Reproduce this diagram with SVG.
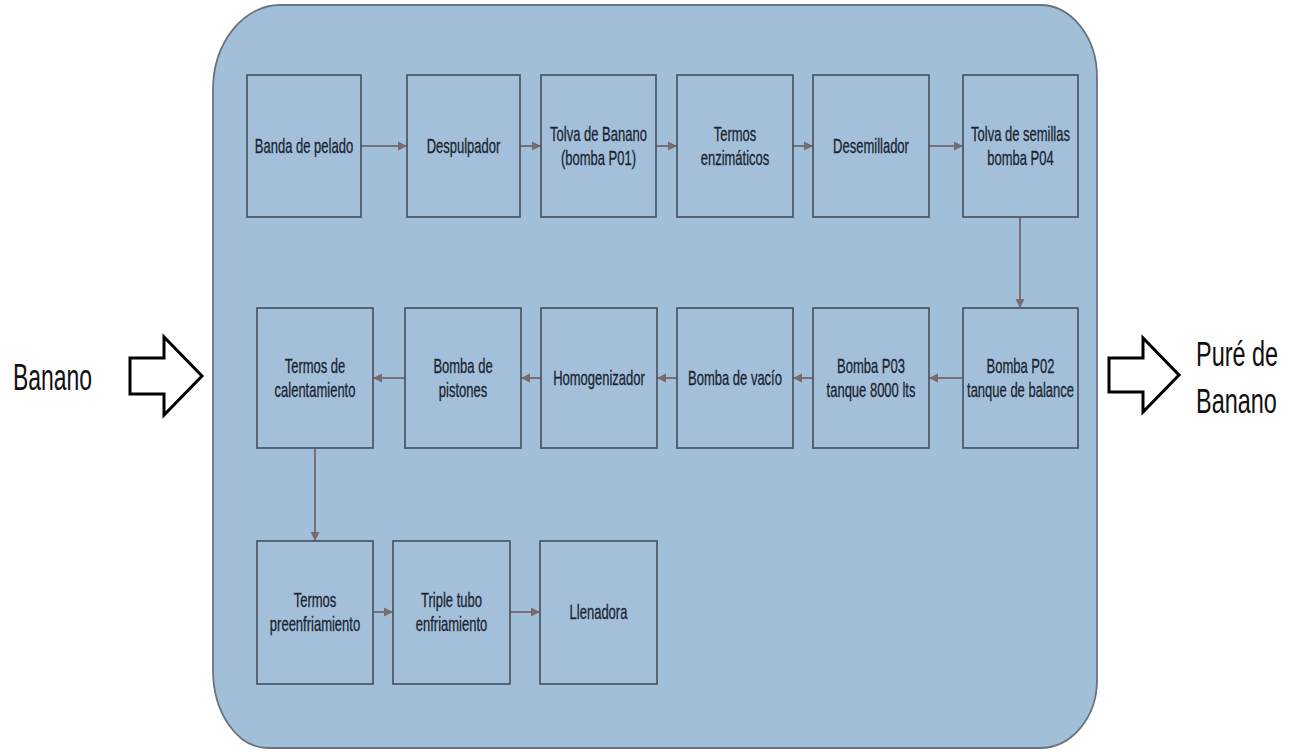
<svg xmlns="http://www.w3.org/2000/svg" width="1291" height="752" viewBox="0 0 1291 752">
  <defs>
    <marker id="arrow" markerUnits="userSpaceOnUse" markerWidth="10" markerHeight="10" refX="9" refY="5" orient="auto">
      <path d="M0,0.5 L9,5 L0,9.5 Z" fill="#776b6b"/>
    </marker>
    <style>
      .node rect { fill: #a3bfda; stroke: #4e5a68; stroke-width: 1.8; }
      .node text { font-family: "Liberation Sans", Arial, sans-serif; font-size: 20px; fill: #1a2430; stroke: #1a2430; stroke-width: 0.3; text-anchor: middle; }
      .conn { stroke: #76707a; stroke-width: 2; fill: none; marker-end: url(#arrow); }
      .io text { font-family: "Liberation Sans", Arial, sans-serif; fill: #111; text-anchor: start; }
      .fat { fill: #fff; stroke: #000; stroke-width: 3; stroke-linejoin: miter; }
    </style>
  </defs>

  <rect width="1291" height="752" fill="#ffffff"/>

  <!-- process container -->
  <path id="container" d="M 280 5 H 1040 A 57 72 0 0 1 1097 77 V 680 A 57 68 0 0 1 1040 748 H 268 A 55 78 0 0 1 213 670 V 90 A 67 85 0 0 1 280 5 Z" fill="#a2bfda" stroke="#6a737d" stroke-width="1.8"/>

  <!-- input / output -->
  <g id="input" class="io">
    <text transform="translate(13,390) scale(0.62,1)" font-size="37">Banano</text>
    <path class="fat" d="M 130 358 H 164 V 337 L 202 376 L 164 415 V 394 H 130 Z"/>
  </g>
  <g id="output" class="io">
    <path class="fat" d="M 1109 358 H 1143 V 338 L 1179 375 L 1143 412 V 392 H 1109 Z"/>
    <text transform="translate(1196,366) scale(0.67,1)" font-size="35">Puré de</text>
    <text transform="translate(1196,413) scale(0.67,1)" font-size="35">Banano</text>
  </g>

  <!-- connectors -->
  <g id="connectors">
    <line class="conn" x1="361" y1="146" x2="407" y2="146"/>
    <line class="conn" x1="520" y1="146" x2="541" y2="146"/>
    <line class="conn" x1="656" y1="146" x2="677" y2="146"/>
    <line class="conn" x1="793" y1="146" x2="813" y2="146"/>
    <line class="conn" x1="929" y1="146" x2="963" y2="146"/>
    <line class="conn" x1="1020" y1="217" x2="1020" y2="308"/>
    <line class="conn" x1="963" y1="378" x2="929" y2="378"/>
    <line class="conn" x1="813" y1="378" x2="793" y2="378"/>
    <line class="conn" x1="677" y1="378" x2="657" y2="378"/>
    <line class="conn" x1="541" y1="378" x2="521" y2="378"/>
    <line class="conn" x1="405" y1="378" x2="373" y2="378"/>
    <line class="conn" x1="315" y1="448" x2="315" y2="541"/>
    <line class="conn" x1="373" y1="612" x2="393" y2="612"/>
    <line class="conn" x1="510" y1="612" x2="540" y2="612"/>
  </g>

  <!-- row 1 -->
  <g id="banda-pelado" class="node">
    <rect x="247" y="75" width="114" height="142"/>
    <text transform="translate(304,153) scale(0.65,1)">Banda de pelado</text>
  </g>
  <g id="despulpador" class="node">
    <rect x="407" y="75" width="113" height="142"/>
    <text transform="translate(463.5,153) scale(0.65,1)">Despulpador</text>
  </g>
  <g id="tolva-banano" class="node">
    <rect x="541" y="75" width="115" height="142"/>
    <text transform="translate(598.5,141) scale(0.65,1)">Tolva de Banano</text>
    <text transform="translate(598.5,165) scale(0.65,1)">(bomba P01)</text>
  </g>
  <g id="termos-enzimaticos" class="node">
    <rect x="677" y="75" width="116" height="142"/>
    <text transform="translate(735,141) scale(0.65,1)">Termos</text>
    <text transform="translate(735,165) scale(0.65,1)">enzimáticos</text>
  </g>
  <g id="desemillador" class="node">
    <rect x="813" y="75" width="116" height="142"/>
    <text transform="translate(871,153) scale(0.65,1)">Desemillador</text>
  </g>
  <g id="tolva-semillas" class="node">
    <rect x="963" y="75" width="115" height="142"/>
    <text transform="translate(1020.5,141) scale(0.65,1)">Tolva de semillas</text>
    <text transform="translate(1020.5,165) scale(0.65,1)">bomba P04</text>
  </g>

  <!-- row 2 -->
  <g id="bomba-p02" class="node">
    <rect x="963" y="308" width="115" height="140"/>
    <text transform="translate(1020.5,373) scale(0.65,1)">Bomba P02</text>
    <text transform="translate(1020.5,397) scale(0.65,1)">tanque de balance</text>
  </g>
  <g id="bomba-p03" class="node">
    <rect x="813" y="308" width="116" height="140"/>
    <text transform="translate(871,373) scale(0.65,1)">Bomba P03</text>
    <text transform="translate(871,397) scale(0.65,1)">tanque 8000 lts</text>
  </g>
  <g id="bomba-vacio" class="node">
    <rect x="677" y="308" width="116" height="140"/>
    <text transform="translate(735,385) scale(0.65,1)">Bomba de vacío</text>
  </g>
  <g id="homogenizador" class="node">
    <rect x="541" y="308" width="116" height="140"/>
    <text transform="translate(599,385) scale(0.65,1)">Homogenizador</text>
  </g>
  <g id="bomba-pistones" class="node">
    <rect x="405" y="308" width="116" height="140"/>
    <text transform="translate(463,373) scale(0.65,1)">Bomba de</text>
    <text transform="translate(463,397) scale(0.65,1)">pistones</text>
  </g>
  <g id="termos-calentamiento" class="node">
    <rect x="257" y="308" width="116" height="140"/>
    <text transform="translate(315,373) scale(0.65,1)">Termos de</text>
    <text transform="translate(315,397) scale(0.65,1)">calentamiento</text>
  </g>

  <!-- row 3 -->
  <g id="termos-preenfriamiento" class="node">
    <rect x="257" y="541" width="116" height="143"/>
    <text transform="translate(315,607) scale(0.65,1)">Termos</text>
    <text transform="translate(315,631) scale(0.65,1)">preenfriamiento</text>
  </g>
  <g id="triple-tubo" class="node">
    <rect x="393" y="541" width="117" height="143"/>
    <text transform="translate(451.5,607) scale(0.65,1)">Triple tubo</text>
    <text transform="translate(451.5,631) scale(0.65,1)">enfriamiento</text>
  </g>
  <g id="llenadora" class="node">
    <rect x="540" y="541" width="117" height="143"/>
    <text transform="translate(598.5,619) scale(0.65,1)">Llenadora</text>
  </g>
</svg>
